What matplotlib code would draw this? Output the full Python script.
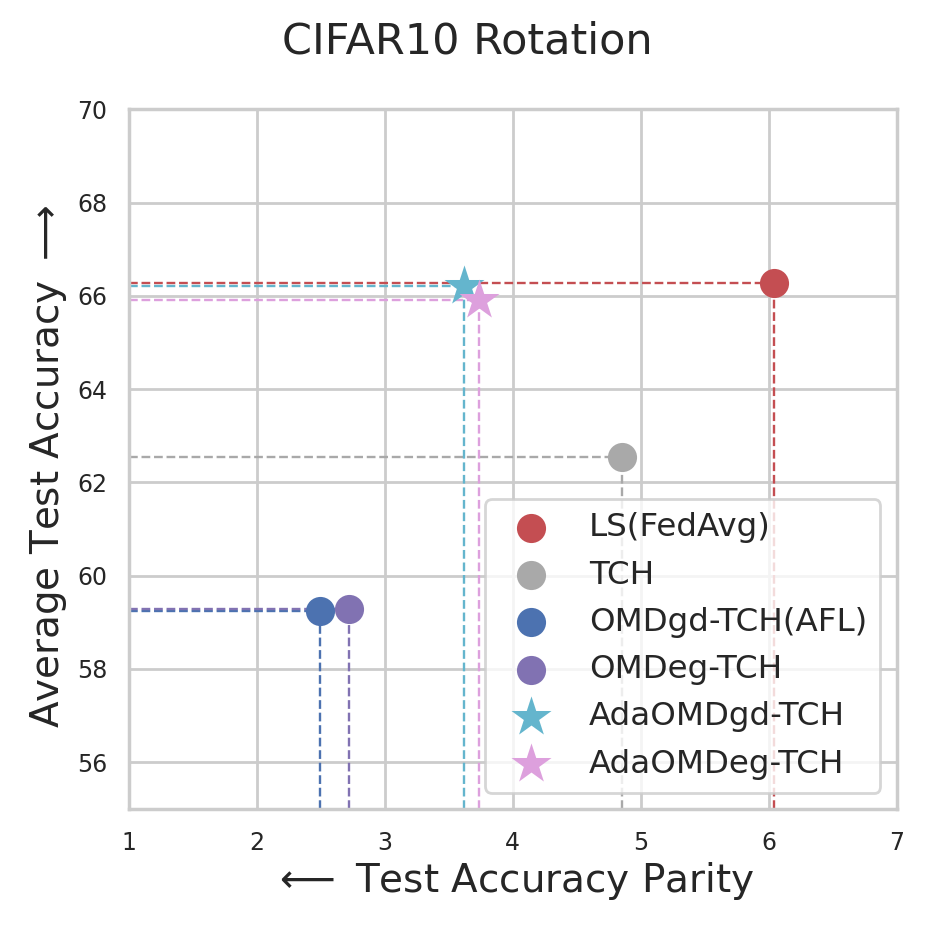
import matplotlib
matplotlib.use("Agg")
import matplotlib.pyplot as plt
import seaborn as sns

# values
methods = ["LS(FedAvg)", "TCH", "OMDgd-TCH(AFL)", "OMDeg-TCH", "AdaOMDgd-TCH", "AdaOMDeg-TCH"]
parity = [6.04, 4.85, 2.49, 2.72, 3.62, 3.74]
accuracy = [66.27, 62.55, 59.25, 59.28, 66.22, 65.92]
colors = ["#C44E52", "#A9A9A9", "#4C72B0", "#8172B2", "#64B5CD", "#DDA0DD"]
markers = ["o", "o", "o", "o", "*", "*"]

sns.set_theme(style="whitegrid")

fig, ax = plt.subplots(figsize=(4.67, 4.67), dpi=200)
fig.subplots_adjust(left=0.138, right=0.960, top=0.883, bottom=0.134)

x_min, y_min = 1, 55
for name, px, acc, c, m in zip(methods, parity, accuracy, colors, markers):
    # dashed guides to the left axis and down to the bottom axis
    ax.plot([x_min, px], [acc, acc], ls="--", lw=0.85, color=c, zorder=2)
    ax.plot([px, px], [y_min, acc], ls="--", lw=0.85, color=c, zorder=2)
    size = 110 if m == "o" else 230
    ax.scatter(px, acc, s=size, marker=m, color=c, label=name, zorder=3, linewidths=0)

ax.set_xlim(1, 7)
ax.set_ylim(55, 70)
ax.set_yticks([56, 58, 60, 62, 64, 66, 68, 70])
ax.tick_params(labelsize=8.5, length=0, pad=7.8)
ax.set_xlabel(r"$\longleftarrow$ Test Accuracy Parity", fontsize=14, labelpad=2)
ax.set_ylabel(r"Average Test Accuracy $\longrightarrow$", fontsize=14)
ax.yaxis.set_label_coords(-0.078, 0.49)
fig.suptitle("CIFAR10 Rotation", fontsize=15.5, x=0.5, y=0.943, va="baseline")
ax.legend(loc="lower right", fontsize=11.7)

fig.savefig("out.png")
